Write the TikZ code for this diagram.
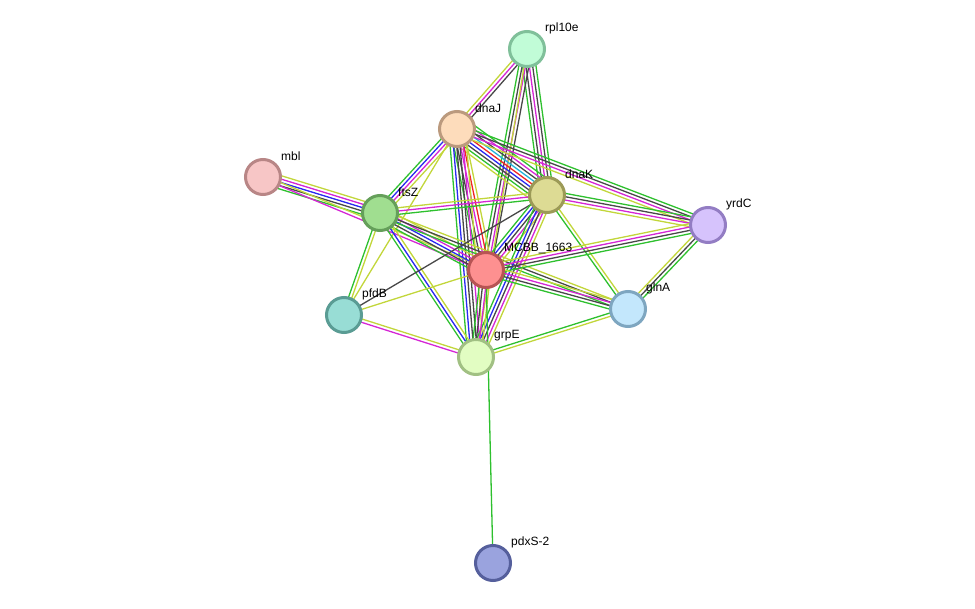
\documentclass[tikz,border=0pt]{standalone}
\usepackage{fontspec}
\setmainfont{Liberation Sans}
\usetikzlibrary{calc}
\pgfdeclarelayer{bg}
\pgfsetlayers{bg,main}
\definecolor{cG}{HTML}{2EC02E}
\definecolor{cY}{HTML}{C2D63A}
\definecolor{cM}{HTML}{D526D5}
\definecolor{cK}{HTML}{484848}
\definecolor{cB}{HTML}{2A2AF0}
\definecolor{cR}{HTML}{F02424}
\definecolor{cC}{HTML}{22B4DA}
\tikzset{
  prot/.style={circle, minimum size=35pt, inner sep=0pt, line width=3pt},
  lab/.style={anchor=west, font=\fontsize{12}{14}\selectfont, inner sep=0pt},
  ln/.style={line width=1.3pt}
}
\newcommand\stredge[3]{%
  \foreach \c [count=\i] in {#3} {\xdef\nlines{\i}}%
  \foreach \c [count=\i] in {#3} {%
    \pgfmathsetmacro\off{(\i-(\nlines+1)/2)*3.3}%
    \draw[ln,\c] ($(#1.center)!\off pt!90:(#2.center)$) -- ($(#2.center)!\off pt!-90:(#1.center)$);
  }%
}
\begin{document}
\begin{tikzpicture}[x=1pt,y=-1pt]
\useasboundingbox (0,0) rectangle (975,609);
\node[prot, fill={rgb,255:red,193;green,252;blue,215}, draw={rgb,255:red,128;green,192;blue,154}] (rpl) at (527,49) {};
\node[prot, fill={rgb,255:red,253;green,220;blue,187}, draw={rgb,255:red,187;green,154;blue,126}] (dnaJ) at (457,129) {};
\node[prot, fill={rgb,255:red,247;green,198;blue,198}, draw={rgb,255:red,184;green,134;blue,134}] (mbl) at (263,177) {};
\node[prot, fill={rgb,255:red,160;green,222;blue,144}, draw={rgb,255:red,101;green,159;blue,90}] (ftsZ) at (380,213) {};
\node[prot, fill={rgb,255:red,221;green,219;blue,148}, draw={rgb,255:red,156;green,154;blue,87}] (dnaK) at (547,195) {};
\node[prot, fill={rgb,255:red,214;green,195;blue,252}, draw={rgb,255:red,147;green,125;blue,195}] (yrdC) at (708,225) {};
\node[prot, fill={rgb,255:red,253;green,144;blue,144}, draw={rgb,255:red,183;green,84;blue,84}] (mcbb) at (486,270) {};
\node[prot, fill={rgb,255:red,152;green,221;blue,213}, draw={rgb,255:red,90;green,156;blue,148}] (pfdB) at (344,315) {};
\node[prot, fill={rgb,255:red,195;green,231;blue,252}, draw={rgb,255:red,126;green,166;blue,192}] (glnA) at (628,309) {};
\node[prot, fill={rgb,255:red,226;green,253;blue,194}, draw={rgb,255:red,161;green,192;blue,131}] (grpE) at (476,357) {};
\node[prot, fill={rgb,255:red,154;green,163;blue,222}, draw={rgb,255:red,85;green,95;blue,156}] (pdxS) at (493,563) {};

\node[lab] (l-rpl) at (545,28) {rpl10e};
\node[lab] (l-dnaJ) at (475,108) {dnaJ};
\node[lab] (l-mbl) at (281,156) {mbl};
\node[lab] (l-ftsZ) at (398,192) {ftsZ};
\node[lab] (l-dnaK) at (565,174) {dnaK};
\node[lab] (l-yrdC) at (726,204) {yrdC};
\node[lab] (l-mcbb) at (504,249) {MCBB\_1663};
\node[lab] (l-pfdB) at (362,294) {pfdB};
\node[lab] (l-glnA) at (646,288) {glnA};
\node[lab] (l-grpE) at (494,336) {grpE};
\node[lab] (l-pdxS) at (511,542) {pdxS-2};

\begin{pgfonlayer}{bg}
\stredge{rpl}{dnaJ}{cY,cM,cK}
\stredge{rpl}{dnaK}{cG,cK,cM,cK,cG}
\stredge{rpl}{mcbb}{cG,cK,cM,cK}
\stredge{rpl}{grpE}{cY}
\stredge{dnaJ}{dnaK}{cY,cG,cK,cB,cR,cC,cK,cM,cG}
\stredge{dnaJ}{yrdC}{cY,cM,cK,cG}
\stredge{dnaJ}{ftsZ}{cG,cB,cM,cY}
\stredge{dnaJ}{pfdB}{cY}
\stredge{dnaJ}{mcbb}{cG,cK,cM,cR,cY}
\stredge{dnaJ}{grpE}{cG,cB,cK,cK,cM,cY}
\stredge{mbl}{ftsZ}{cG,cK,cB,cM,cY}
\stredge{mbl}{mcbb}{cM,cY}
\stredge{ftsZ}{mcbb}{cG,cK,cB,cM,cY}
\stredge{ftsZ}{glnA}{cG,cK,cY}
\stredge{ftsZ}{dnaK}{cG,cM,cY}
\stredge{ftsZ}{pfdB}{cG,cY}
\stredge{ftsZ}{grpE}{cG,cB,cY}
\stredge{pfdB}{dnaK}{cK}
\stredge{pfdB}{mcbb}{cY}
\stredge{pfdB}{grpE}{cM,cY}
\stredge{dnaK}{mcbb}{cG,cB,cK,cM,cY}
\stredge{dnaK}{grpE}{cG,cB,cK,cM,cY}
\stredge{dnaK}{glnA}{cG,cY}
\stredge{dnaK}{yrdC}{cY,cM,cK,cG}
\stredge{mcbb}{grpE}{cG,cK,cM,cY}
\stredge{mcbb}{yrdC}{cG,cK,cM,cY}
\stredge{mcbb}{glnA}{cG,cK,cM,cY}
\stredge{glnA}{yrdC}{cG,cK,cY}
\stredge{glnA}{grpE}{cG,cY}
\stredge{mcbb}{pdxS}{cG}
\end{pgfonlayer}
\end{tikzpicture}
\end{document}
